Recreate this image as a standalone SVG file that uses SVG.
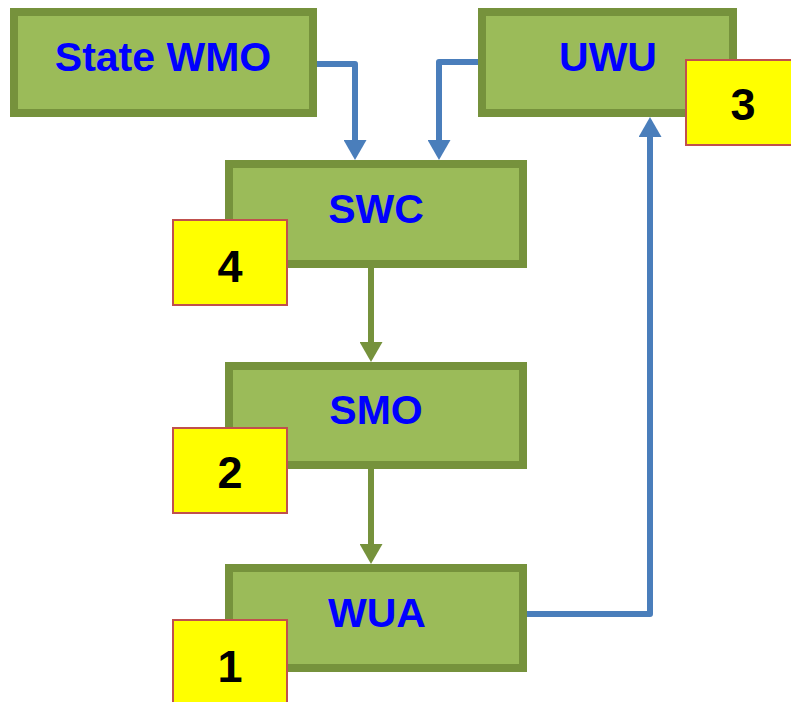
<svg xmlns="http://www.w3.org/2000/svg" width="791" height="702" viewBox="0 0 791 702">
  <style>
    .box { fill: #9BBB59; stroke: #76923C; stroke-width: 8; }
    .lbl { font-family: "Liberation Sans", Arial, sans-serif; font-weight: bold; font-size: 41px; fill: #0000FF; text-anchor: middle; }
    .badge { fill: #FFFF00; stroke: #C0504D; stroke-width: 2; }
    .num { font-family: "Liberation Sans", Arial, sans-serif; font-weight: bold; font-size: 45px; fill: #000000; text-anchor: middle; }
    .blue { fill: none; stroke: #4A7EBB; stroke-width: 6; stroke-linejoin: round; }
    .olive { fill: none; stroke: #76923C; stroke-width: 6; }
  </style>
  <defs>
    <marker id="ahBlue" viewBox="0 0 20 23" refX="0" refY="11.5" markerWidth="20" markerHeight="23" markerUnits="userSpaceOnUse" orient="auto">
      <path d="M0,0 L20,11.5 L0,23 Z" fill="#4A7EBB"/>
    </marker>
    <marker id="ahOlive" viewBox="0 0 20 23" refX="0" refY="11.5" markerWidth="20" markerHeight="23" markerUnits="userSpaceOnUse" orient="auto">
      <path d="M0,0 L20,11.5 L0,23 Z" fill="#76923C"/>
    </marker>
  </defs>
  <g id="connectors">
    <path class="blue" d="M317,64 H355 V140" marker-end="url(#ahBlue)"/>
    <path class="blue" d="M478,62 H439 V140" marker-end="url(#ahBlue)"/>
    <path class="olive" d="M371,268 V342" marker-end="url(#ahOlive)"/>
    <path class="olive" d="M371,469 V544" marker-end="url(#ahOlive)"/>
    <path class="blue" d="M527,614 H650 V137" marker-end="url(#ahBlue)"/>
  </g>
  <g id="state-wmo">
    <rect class="box" x="14" y="12" width="299" height="101"/>
    <text class="lbl" x="163" y="71">State WMO</text>
  </g>
  <g id="uwu">
    <rect class="box" x="482" y="12" width="251" height="101"/>
    <text class="lbl" x="608" y="71">UWU</text>
  </g>
  <g id="swc">
    <rect class="box" x="229" y="164" width="294" height="100"/>
    <text class="lbl" x="376" y="223">SWC</text>
  </g>
  <g id="smo">
    <rect class="box" x="229" y="366" width="294" height="99"/>
    <text class="lbl" x="376" y="424">SMO</text>
  </g>
  <g id="wua">
    <rect class="box" x="229" y="568" width="294" height="100"/>
    <text class="lbl" x="377" y="627">WUA</text>
  </g>
  <g id="badge-3">
    <rect class="badge" x="686" y="60" width="114" height="85"/>
    <text class="num" x="743" y="120">3</text>
  </g>
  <g id="badge-4">
    <rect class="badge" x="173" y="220" width="114" height="85"/>
    <text class="num" x="230" y="282">4</text>
  </g>
  <g id="badge-2">
    <rect class="badge" x="173" y="428" width="114" height="85"/>
    <text class="num" x="230" y="488">2</text>
  </g>
  <g id="badge-1">
    <rect class="badge" x="173" y="620" width="114" height="85"/>
    <text class="num" x="230" y="682">1</text>
  </g>
</svg>
